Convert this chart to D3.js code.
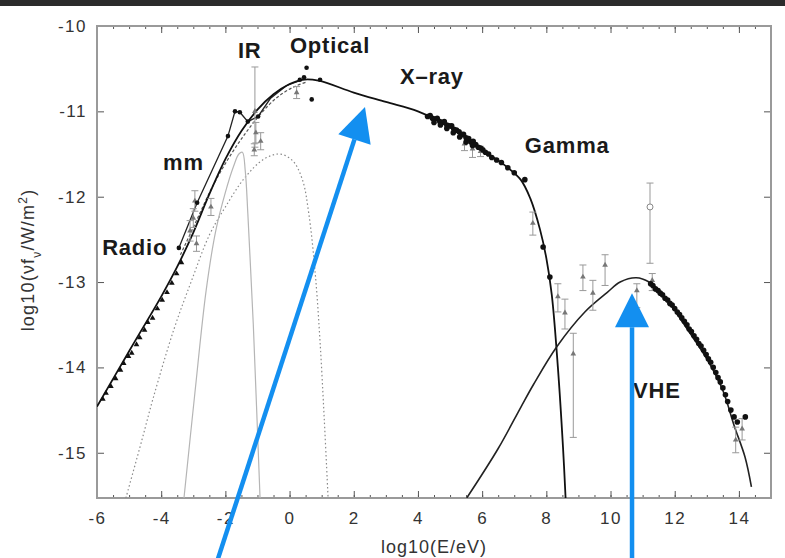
<!DOCTYPE html>
<html>
<head>
<meta charset="utf-8">
<script src="https://cdn.jsdelivr.net/npm/d3@7"></script>
<style>
  body { margin: 0; background: #fff; }
  svg { display: block; font-family: "Liberation Sans", Arial, sans-serif; }
</style>
</head>
<body>
<div id="chart"></div>
<script>
// axis ticks
const xMajor = [-6, -4, -2, 0, 2, 4, 6, 8, 10, 12, 14];
const yMajor = [-10, -11, -12, -13, -14, -15];

// model curves [log10 E, log10 nuFnu]
const syncModel = [[-6, -14.46], [-5, -13.81], [-4, -13.17], [-3.5, -12.82], [-3.0, -12.42], [-2.5, -11.97],
  [-2.0, -11.56], [-1.5, -11.23], [-1.0, -10.98], [-0.5, -10.8], [0, -10.68], [0.4, -10.63], [0.9, -10.64],
  [2, -10.78], [3, -10.89], [4, -11.0], [5, -11.19], [6, -11.45], [6.7, -11.63], [7.2, -11.8], [7.5, -12.02],
  [7.8, -12.38], [8.0, -12.72], [8.17, -13.15], [8.36, -14.0], [8.52, -14.94], [8.6, -15.53]];
const syncModel2 = [[-3.4, -12.68], [-2.9, -12.28], [-2.4, -11.88], [-1.9, -11.55], [-1.4, -11.27],
  [-0.9, -11.03], [-0.4, -10.84], [0.1, -10.72], [0.5, -10.66]];
const mmLine = [[-3.45, -12.6], [-2.88, -12.07], [-1.92, -11.29], [-1.7, -11.0], [-1.55, -11.01],
  [-1.3, -11.12], [-0.98, -11.06], [-0.6, -10.85], [-0.1, -10.7], [0.38, -10.63]];
const dustCurve = [[-3.29, -15.53], [-2.95, -14.3], [-2.6, -13.1], [-2.3, -12.4], [-2.0, -11.95],
  [-1.75, -11.65], [-1.58, -11.5], [-1.47, -11.48], [-1.38, -11.7], [-1.3, -12.2], [-1.22, -12.8],
  [-1.13, -13.5], [-1.03, -14.45], [-0.92, -15.53]];
const hostDotted = [[-5.1, -15.53], [-4.6, -14.85], [-4.25, -14.36], [-3.6, -13.55], [-3.04, -12.97],
  [-2.5, -12.45], [-2.0, -12.12], [-1.4, -11.78], [-0.8, -11.56], [-0.3, -11.5], [0.1, -11.58],
  [0.4, -11.8], [0.6, -12.2], [0.8, -12.9], [0.95, -13.7], [1.08, -14.6], [1.2, -15.53]];
const compton = [[5.52, -15.53], [6.5, -14.95], [7.2, -14.47], [7.6, -14.2], [8.32, -13.76], [9.2, -13.35],
  [9.9, -13.12], [10.3, -13.0], [10.8, -12.95], [11.2, -13.0], [11.75, -13.2], [12.3, -13.5], [13.0, -13.9],
  [13.5, -14.27], [13.85, -14.68], [14.19, -15.05], [14.39, -15.4]];

// measured points
const radioPts = [[-5.85, -14.36], [-5.75, -14.29], [-5.6, -14.21], [-5.45, -14.12], [-5.3, -14.02],
  [-5.2, -13.94], [-5.05, -13.86], [-4.95, -13.82], [-4.8, -13.72], [-4.7, -13.64], [-4.55, -13.55],
  [-4.45, -13.46], [-4.3, -13.41], [-4.15, -13.3], [-4.0, -13.2], [-3.85, -13.11], [-3.7, -13.0],
  [-3.55, -12.89], [-3.4, -12.76]];
const mmPts = [[-3.45, -12.6], [-2.88, -12.07], [-1.92, -11.29], [-1.7, -11.0], [-1.55, -11.01],
  [-1.3, -11.12], [-0.98, -11.06]];
const opticalPts = [[0.32, -10.63], [0.53, -10.49], [0.95, -10.63], [0.69, -10.86], [0.45, -10.6]];
const xrayPts = [[4.3, -11.06], [4.38, -11.05], [4.45, -11.08], [4.52, -11.09], [4.6, -11.08], [4.68, -11.12],
  [4.75, -11.13], [4.82, -11.12], [4.9, -11.16], [4.97, -11.17], [5.05, -11.17], [5.12, -11.21],
  [5.2, -11.22], [5.28, -11.24], [5.35, -11.27], [5.42, -11.27], [5.5, -11.31], [5.58, -11.32],
  [5.65, -11.36], [5.72, -11.35], [5.8, -11.39], [5.88, -11.42], [5.95, -11.43], [6.02, -11.45],
  [6.1, -11.48], [6.2, -11.5], [6.3, -11.54], [6.45, -11.57], [6.6, -11.6], [6.8, -11.66], [7.0, -11.72],
  [7.33, -11.8], [7.9, -12.59], [8.11, -12.94],
  [4.5, -11.13], [4.7, -11.16], [4.9, -11.2], [5.1, -11.25], [5.3, -11.3], [5.5, -11.36], [5.7, -11.4]];
const vhePts = [[11.25, -13.02], [11.32, -13.04], [11.4, -13.08], [11.48, -13.1], [11.55, -13.13],
  [11.62, -13.15], [11.7, -13.19], [11.78, -13.21], [11.85, -13.25], [11.92, -13.27], [12.0, -13.31],
  [12.08, -13.35], [12.15, -13.38], [12.22, -13.42], [12.3, -13.46], [12.38, -13.5], [12.45, -13.55],
  [12.52, -13.58], [12.6, -13.63], [12.68, -13.67], [12.75, -13.72], [12.82, -13.75], [12.9, -13.8],
  [12.98, -13.85], [13.05, -13.9], [13.12, -13.94], [13.2, -14.0], [13.28, -14.06], [13.35, -14.12],
  [13.42, -14.17], [13.5, -14.24], [13.58, -14.32], [13.65, -14.4], [13.75, -14.5], [13.85, -14.58],
  [13.95, -14.64], [14.2, -14.58]];
// [x, y, low, high]
const errPts = [[-3.1, -12.4, -12.52, -12.28], [-3.0, -12.25, -12.36, -12.14], [-2.9, -12.55, -12.64, -12.46],
  [-2.95, -12.05, -12.17, -11.93], [-2.45, -12.12, -12.22, -12.02], [-1.08, -11.0, -11.42, -10.48],
  [-1.05, -11.25, -11.37, -11.13], [-0.9, -11.35, -11.45, -11.25], [-1.1, -11.45, -11.52, -11.38],
  [0.22, -10.78, -10.85, -10.71], [5.45, -11.38, -11.46, -11.3], [5.7, -11.44, -11.54, -11.34],
  [5.95, -11.47, -11.53, -11.41], [7.58, -12.31, -12.45, -12.18], [8.36, -13.17, -13.35, -13.02],
  [8.58, -13.36, -13.55, -13.2], [8.84, -13.84, -14.82, -13.6], [9.14, -12.94, -13.1, -12.8],
  [9.45, -13.13, -13.33, -12.98], [9.83, -12.8, -13.04, -12.68], [10.82, -13.1, -13.3, -13.02],
  [11.3, -12.98, -13.1, -12.9], [13.9, -14.85, -15.0, -14.7], [14.1, -14.72, -14.85, -14.6]];
const openPts = [[11.23, -12.12, -12.78, -11.84]];

// band labels
const bandLabels = [["Radio", -5.84, -12.68], ["mm", -3.94, -11.69], ["IR", -1.61, -10.37],
  ["Optical", 0.01, -10.32], ["X\u2013ray", 3.44, -10.68], ["Gamma", 7.33, -11.49], ["VHE", 10.7, -14.36]];
// annotation arrows [x0, y0, x1, y1] (tail -> tip)
const arrows = [[-2.23, -16.24, 2.35, -10.95], [10.67, -16.24, 10.67, -13.13]];

const W = 785, H = 558;
const x = d3.scaleLinear().domain([-6, 15]).range([97, 771]);
const y = d3.scaleLinear().domain([-15.53, -10]).range([498, 26]);

const svg = d3.select("#chart").append("svg").attr("width", W).attr("height", H);

svg.append("rect").attr("width", W).attr("height", 6).attr("fill", "#2b2b2b");

svg.append("clipPath").attr("id", "plot")
  .append("rect").attr("x", 97).attr("y", 26).attr("width", 674).attr("height", 472);

// axes with inward ticks
function styleAxis(g) {
  g.select(".domain").remove();
  g.selectAll("line").attr("stroke", "#555");
  g.selectAll("text").attr("fill", "#333").style("font-size", "17px").style("letter-spacing", "1.5px");
}
const xMinor = d3.range(-6, 15.01, 0.5);
svg.append("g").attr("transform", "translate(0,498)")
  .call(d3.axisBottom(x).tickValues(xMinor).tickSize(-3).tickFormat("")).call(styleAxis);
svg.append("g").attr("transform", "translate(0,498)")
  .call(d3.axisBottom(x).tickValues(xMajor).tickSize(-7).tickPadding(14).tickFormat(d => String(d)))
  .call(styleAxis);
svg.append("g").attr("transform", "translate(0,26)")
  .call(d3.axisTop(x).tickValues(xMinor).tickSize(-3).tickFormat("")).call(styleAxis);
svg.append("g").attr("transform", "translate(0,26)")
  .call(d3.axisTop(x).tickValues(xMajor).tickSize(-7).tickFormat("")).call(styleAxis);
svg.append("g").attr("transform", "translate(97,0)")
  .call(d3.axisLeft(y).tickValues(yMajor).tickSize(-7).tickPadding(10).tickFormat(d => String(d)))
  .call(styleAxis);
svg.append("g").attr("transform", "translate(771,0)")
  .call(d3.axisRight(y).tickValues(yMajor).tickSize(-7).tickFormat("")).call(styleAxis);

svg.append("rect").attr("x", 97).attr("y", 26).attr("width", 674).attr("height", 472)
  .attr("fill", "none").attr("stroke", "#9a9a9a").attr("stroke-width", 2);

const plot = svg.append("g").attr("clip-path", "url(#plot)");
const smooth = d3.line().x(d => x(d[0])).y(d => y(d[1])).curve(d3.curveCatmullRom.alpha(0.5));
const straight = d3.line().x(d => x(d[0])).y(d => y(d[1]));

plot.append("path").attr("d", smooth(hostDotted)).attr("fill", "none")
  .attr("stroke", "#8a8a8a").attr("stroke-width", 1.2).attr("stroke-dasharray", "1.5,2.5");
plot.append("path").attr("d", smooth(dustCurve)).attr("fill", "none")
  .attr("stroke", "#b5b5b5").attr("stroke-width", 1.2);
plot.append("path").attr("d", smooth(syncModel2)).attr("fill", "none")
  .attr("stroke", "#555").attr("stroke-width", 1.2).attr("stroke-dasharray", "3,2");
plot.append("path").attr("d", straight(mmLine)).attr("fill", "none")
  .attr("stroke", "#222").attr("stroke-width", 1.3);
plot.append("path").attr("d", smooth(syncModel)).attr("fill", "none")
  .attr("stroke", "#111").attr("stroke-width", 1.8);
plot.append("path").attr("d", smooth(compton)).attr("fill", "none")
  .attr("stroke", "#222").attr("stroke-width", 1.6);

// error bars
const eb = plot.selectAll(".eb").data(errPts.concat(openPts)).join("g").attr("class", "eb");
eb.append("line").attr("x1", d => x(d[0])).attr("x2", d => x(d[0]))
  .attr("y1", d => y(d[2])).attr("y2", d => y(d[3])).attr("stroke", "#999");
eb.append("line").attr("x1", d => x(d[0]) - 3.5).attr("x2", d => x(d[0]) + 3.5)
  .attr("y1", d => y(d[2])).attr("y2", d => y(d[2])).attr("stroke", "#999");
eb.append("line").attr("x1", d => x(d[0]) - 3.5).attr("x2", d => x(d[0]) + 3.5)
  .attr("y1", d => y(d[3])).attr("y2", d => y(d[3])).attr("stroke", "#999");
eb.filter(d => !openPts.includes(d)).append("path")
  .attr("d", d3.symbol().type(d3.symbolTriangle).size(14))
  .attr("transform", d => `translate(${x(d[0])},${y(d[1])})`).attr("fill", "#777");
plot.selectAll(".open").data(openPts).join("circle")
  .attr("cx", d => x(d[0])).attr("cy", d => y(d[1])).attr("r", 3)
  .attr("fill", "#fff").attr("stroke", "#888");

const tri = d3.symbol().type(d3.symbolTriangle).size(14);
plot.selectAll(".radio").data(radioPts).join("path")
  .attr("d", tri).attr("transform", d => `translate(${x(d[0]) + 1},${y(d[1]) + 1})`).attr("fill", "#111");
plot.selectAll(".dot").data(mmPts.concat(opticalPts)).join("circle")
  .attr("cx", d => x(d[0])).attr("cy", d => y(d[1])).attr("r", 2.3).attr("fill", "#111");
plot.selectAll(".band-pt").data(xrayPts.concat(vhePts)).join("circle")
  .attr("cx", d => x(d[0])).attr("cy", d => y(d[1])).attr("r", 2.8).attr("fill", "#111");

// band labels
svg.selectAll(".band").data(bandLabels).join("text")
  .attr("x", d => x(d[1])).attr("y", d => y(d[2]))
  .attr("fill", "#1a1a1a").style("font-size", "22px").style("font-weight", "bold")
  .style("letter-spacing", "0.8px").text(d => d[0]);

// axis titles
svg.append("text").attr("x", 434).attr("y", 553).attr("text-anchor", "middle")
  .attr("fill", "#333").style("font-size", "18px").style("letter-spacing", "1px").text("log10(E/eV)");
const yl = svg.append("text").attr("transform", "translate(34,260) rotate(-90)")
  .attr("text-anchor", "middle").attr("fill", "#333").style("font-size", "18px").style("letter-spacing", "1.2px");
yl.append("tspan").text("log10(\u03bdf");
yl.append("tspan").attr("baseline-shift", "sub").style("font-size", "12px").text("\u03bd");
yl.append("tspan").text("/W/m");
yl.append("tspan").attr("baseline-shift", "super").style("font-size", "12px").text("2");
yl.append("tspan").text(")");

// blue annotation arrows
const blue = "#138ff0";
arrows.forEach(a => {
  const x0 = x(a[0]), y0 = y(a[1]), x1 = x(a[2]), y1 = y(a[3]);
  const len = Math.hypot(x1 - x0, y1 - y0), ux = (x1 - x0) / len, uy = (y1 - y0) / len;
  const hl = 34, hw = 17;
  const bx = x1 - ux * hl, by = y1 - uy * hl;
  svg.append("line").attr("x1", x0).attr("y1", y0).attr("x2", bx).attr("y2", by)
    .attr("stroke", blue).attr("stroke-width", 4.5);
  svg.append("path")
    .attr("d", `M${x1},${y1}L${bx - uy * hw},${by + ux * hw}L${bx + uy * hw},${by - ux * hw}Z`)
    .attr("fill", blue);
});
</script>
</body>
</html>
